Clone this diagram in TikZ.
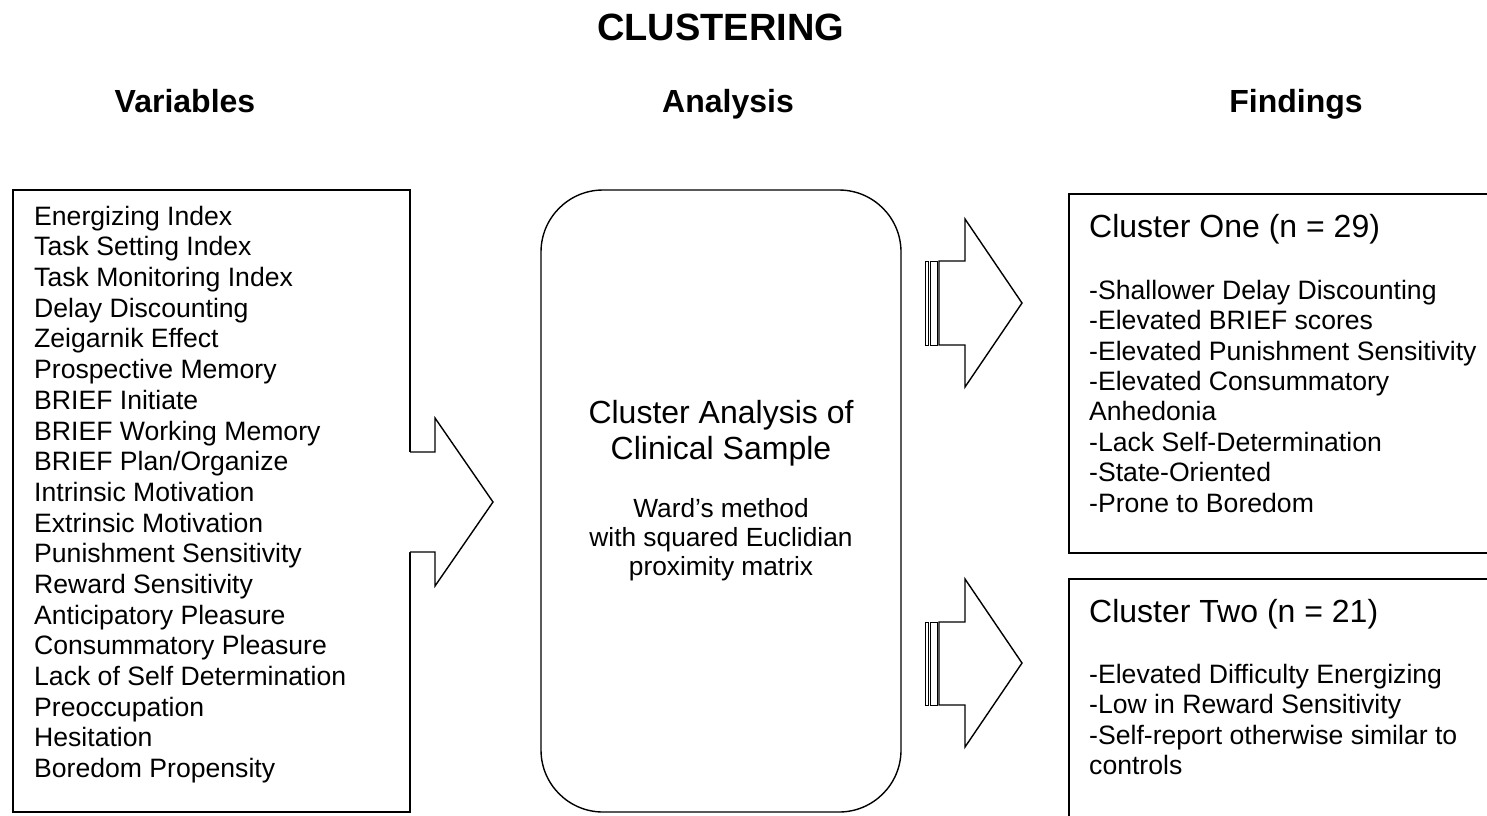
\documentclass[tikz,border=0pt]{standalone}
\usepackage{fontspec}
\setmainfont{Liberation Sans}
\begin{document}
\begin{tikzpicture}[x=1pt,y=-1pt,
  shapeline/.style={line width=1.4pt,line join=miter},
  stripe/.style={line width=1pt},
  txt/.style={inner sep=0pt,anchor=base west,font=\fontsize{26.6}{30}\selectfont},
  ctxt/.style={inner sep=0pt,anchor=base,font=\fontsize{26.3}{30}\selectfont},
  big/.style={inner sep=0pt,anchor=base,font=\fontsize{32}{36}\selectfont},
  hdr/.style={inner sep=0pt,anchor=base,font=\fontsize{32}{36}\selectfont\bfseries},
  ttl/.style={inner sep=0pt,anchor=base,font=\fontsize{38}{42}\selectfont\bfseries}]
\useasboundingbox (0,0) rectangle (1487,815);
\clip (0,0) rectangle (1487,815);
\fill[white] (0,0) rectangle (1487,815);

% title and headers
\node[ttl] (title) at (720.5,40) {CLUSTERING};
\node[hdr] (hvar) at (185,112) {Variables};
\node[hdr] (hana) at (728,112) {Analysis};
\node[hdr] (hfin) at (1296,112) {Findings};

% left box
\draw[shapeline] (13,190) rectangle (410,812);
\foreach \t [count=\i from 0] in {Energizing Index,Task Setting Index,Task Monitoring Index,Delay Discounting,Zeigarnik Effect,Prospective Memory,BRIEF Initiate,BRIEF Working Memory,BRIEF Plan/Organize,Intrinsic Motivation,Extrinsic Motivation,Punishment Sensitivity,Reward Sensitivity,Anticipatory Pleasure,Consummatory Pleasure,Lack of Self Determination,Preoccupation,Hesitation,Boredom Propensity}
  \node[txt] (v\i) at (34,225.3+30.67*\i) {\t};

% big arrow
\fill[white] (408,452) -- (435,452) -- (435,418) -- (493,502) -- (435,586) -- (435,552) -- (408,552) -- cycle;
\draw[shapeline] (410,452) -- (435,452) -- (435,418) -- (493,502) -- (435,586) -- (435,552) -- (410,552);

% analysis box
\draw[shapeline,rounded corners=62pt] (541,190) rectangle (901,812);
\node[big] (a1) at (721,423) {Cluster Analysis of};
\node[big] (a2) at (721,459) {Clinical Sample};
\node[ctxt] (a3) at (721,517) {Ward’s method};
\node[ctxt] (a4) at (721,546) {with squared Euclidian};
\node[ctxt] (a5) at (721,575) {proximity matrix};

% striped arrows
\foreach \yt/\yb/\hy/\ty [count=\k] in {261/345/219/303, 622/705/579/663}{
  \draw[stripe] (925,\yt) rectangle (928,\yb);
  \draw[stripe] (930.5,\yt) rectangle (937,\yb);
  \draw[shapeline] (939,\yt) -- (965,\yt) -- (965,\hy) -- (1022,\ty) -- (965,2*\ty-\hy) -- (965,\yb) -- (939,\yb) -- cycle;
}

% findings boxes
\draw[shapeline] (1069,194) rectangle (1500,553);
\draw[shapeline] (1069,579) rectangle (1500,840);
\node[big,anchor=base west] (c1) at (1089,237.5) {Cluster One (n = 29)};
\foreach \t [count=\i from 0] in {-Shallower Delay Discounting,-Elevated BRIEF scores,-Elevated Punishment Sensitivity,-Elevated Consummatory,Anhedonia,-Lack Self-Determination,-State-Oriented,-Prone to Boredom}
  \node[txt] (f\i) at (1089,299.3+30.4*\i) {\t};
\node[big,anchor=base west] (c2) at (1089,622.5) {Cluster Two (n = 21)};
\foreach \t [count=\i from 0] in {-Elevated Difficulty Energizing,-Low in Reward Sensitivity,-Self-report otherwise similar to,controls}
  \node[txt] (g\i) at (1089,683.3+30.4*\i) {\t};
\end{tikzpicture}
\end{document}
